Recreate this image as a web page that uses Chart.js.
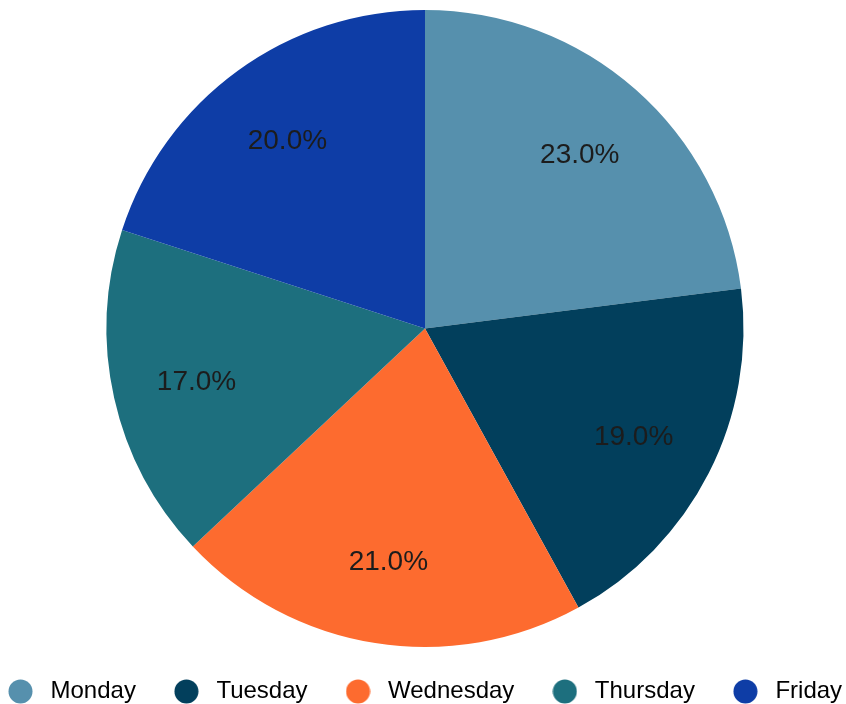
<!DOCTYPE html>
<html>
<head>
<meta charset="utf-8">
<script src="https://cdn.jsdelivr.net/npm/chart.js@4"></script>
<style>
  html, body { margin: 0; padding: 0; background: #ffffff; overflow: hidden; }
  #wrap { width: 846px; height: 704px; position: relative; overflow: hidden; }
  #inner { position: absolute; left: 2px; top: 0; width: 846px; height: 704px; }
</style>
</head>
<body>
<div id="wrap"><div id="inner"><canvas id="c"></canvas></div></div>
<script>
const categories = ['Monday', 'Tuesday', 'Wednesday', 'Thursday', 'Friday'];
const shares = [23.0, 19.0, 21.0, 17.0, 20.0];
const sliceColors = ['#5690ad', '#023f5c', '#fd6b2f', '#1d6f7e', '#0e3da6'];

const FONT = "'Liberation Sans', Arial, sans-serif";

function makeDot(color, d) {
  const cv = document.createElement('canvas');
  cv.width = d; cv.height = d;
  const g = cv.getContext('2d');
  g.fillStyle = color;
  g.beginPath();
  g.arc(d / 2, d / 2, d / 2 - 0.5, 0, Math.PI * 2);
  g.fill();
  return cv;
}
const dots = sliceColors.map(c => makeDot(c, 25));

const sliceLabels = {
  id: 'sliceLabels',
  afterDatasetsDraw(chart) {
    const ctx = chart.ctx;
    const meta = chart.getDatasetMeta(0);
    ctx.save();
    ctx.font = '28px ' + FONT;
    ctx.fillStyle = '#1c1c1c';
    ctx.textAlign = 'center';
    ctx.textBaseline = 'alphabetic';
    meta.data.forEach((arc, i) => {
      const p = arc.getProps(['x', 'y', 'startAngle', 'endAngle', 'outerRadius'], true);
      const mid = (p.startAngle + p.endAngle) / 2;
      const r = p.outerRadius * 0.735;
      ctx.fillText(shares[i].toFixed(1) + '%', p.x + Math.cos(mid) * r, p.y + Math.sin(mid) * r + 10);
    });
    ctx.restore();
  }
};

new Chart(document.getElementById('c'), {
  type: 'pie',
  data: {
    labels: categories,
    datasets: [{
      data: shares,
      backgroundColor: sliceColors,
      borderWidth: 0
    }]
  },
  options: {
    responsive: true,
    maintainAspectRatio: false,
    animation: false,
    layout: { padding: { top: 10, left: -32, right: -45, bottom: -9.5 } },
    plugins: {
      tooltip: { enabled: false },
      legend: {
        position: 'bottom',
        align: 'start',
        labels: {
          usePointStyle: true,
          pointStyleWidth: 36,
          boxHeight: 24,
          padding: 32.5,
          color: '#222222',
          font: { family: FONT, size: 24 },
          generateLabels: (chart) => chart.data.labels.map((l, i) => ({
            text: l,
            fillStyle: sliceColors[i],
            strokeStyle: sliceColors[i],
            lineWidth: 0,
            pointStyle: dots[i],
            hidden: !chart.getDataVisibility(i),
            index: i
          }))
        }
      }
    }
  },
  plugins: [sliceLabels]
});
</script>
</body>
</html>
